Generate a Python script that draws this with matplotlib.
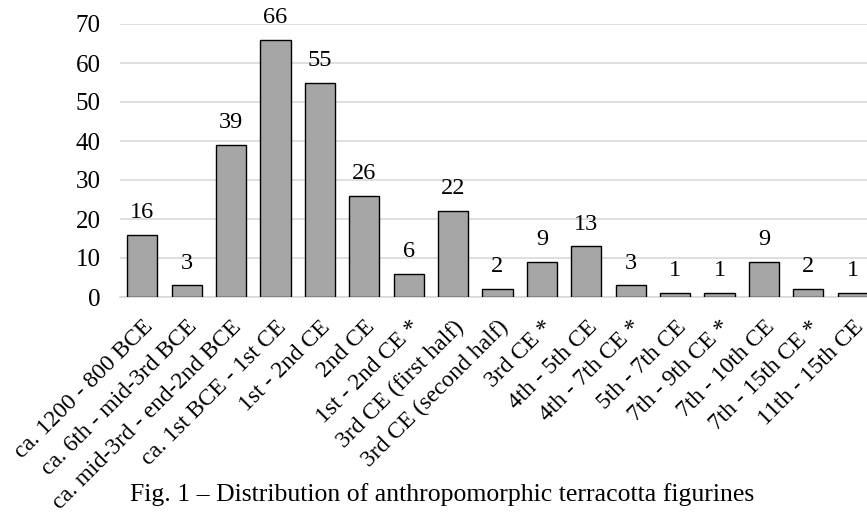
import numpy as np
import matplotlib.pyplot as plt

plt.rcParams['font.family'] = ['Liberation Serif', 'DejaVu Serif']

periods = ['ca. 1200 - 800 BCE', 'ca. 6th - mid-3rd BCE', 'ca. mid-3rd - end-2nd BCE',
           'ca. 1st BCE - 1st CE', '1st - 2nd CE', '2nd CE', '1st - 2nd CE *',
           '3rd CE (first half)', '3rd CE (second half)', '3rd CE *', '4th - 5th CE',
           '4th - 7th CE *', '5th - 7th CE', '7th - 9th CE *', '7th - 10th CE',
           '7th - 15th CE *', '11th - 15th CE']
counts = [16, 3, 39, 66, 55, 26, 6, 22, 2, 9, 13, 3, 1, 1, 9, 2, 1]
yticks = [0, 10, 20, 30, 40, 50, 60, 70]

fig = plt.figure(figsize=(8.67, 5.17), dpi=100)
ax = fig.add_axes([120/867, 1 - 297/517, 755/867, 273/517])

x = np.arange(len(periods))
bars = ax.bar(x, counts, width=0.68, color='#a6a6a6', edgecolor='black', linewidth=1, zorder=3)
for xi, v in zip(x, counts):
    ax.text(xi, v + 3, str(v), ha='center', va='bottom', fontsize=17.5)

ax.set_xlim(-0.5, len(periods) - 0.5)
ax.set_ylim(0, 70)
ax.set_yticks(yticks)
ax.set_yticklabels([str(t) for t in yticks], fontsize=18)
ax.set_xticks(x)
ax.set_xticklabels(periods, rotation=45, ha='right', rotation_mode='anchor', fontsize=17)
ax.tick_params(length=0)
ax.tick_params(axis='y', pad=14)
ax.tick_params(axis='x', pad=14)
ax.grid(axis='y', color='#d9d9d9', linewidth=1.2, zorder=0)
for s in ['top', 'right', 'left']:
    ax.spines[s].set_visible(False)
ax.spines['bottom'].set_color('#d9d9d9')
ax.spines['bottom'].set_linewidth(1.2)

fig.text(442/867, 1 - 495/517, 'Fig. 1 \u2013 Distribution of anthropomorphic terracotta figurines',
         ha='center', va='center', fontsize=18.5)

fig.savefig('out.png', dpi=100)
